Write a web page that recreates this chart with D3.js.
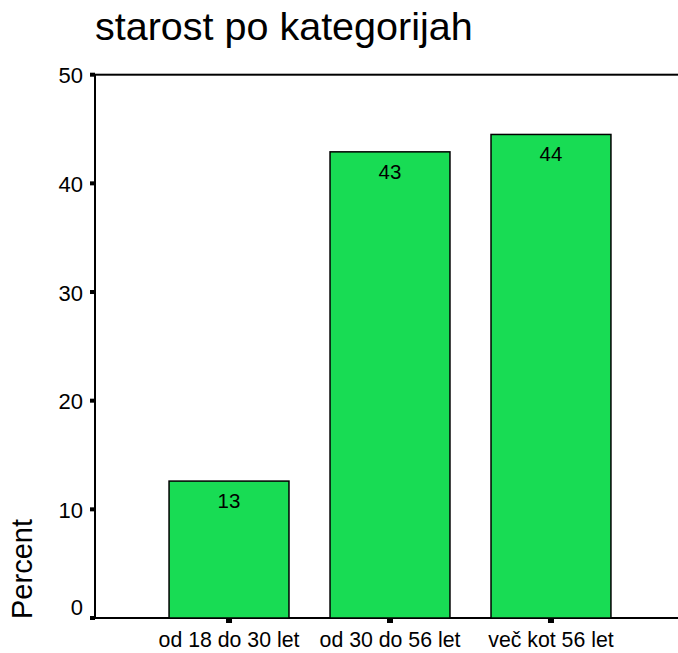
<!DOCTYPE html>
<html><head><meta charset="utf-8">
<script src="https://cdn.jsdelivr.net/npm/d3@7"></script>
<style>body{margin:0;background:#fff}svg{display:block}text{font-family:"Liberation Sans",Arial,sans-serif;fill:#000}</style>
</head><body>
<script>
const categories = ["od 18 do 30 let", "od 30 do 56 let", "več kot 56 let"];
const values = [12.6, 42.9, 44.5];
const valueLabels = ["13", "43", "44"];
const yTicks = [0, 10, 20, 30, 40, 50];
const title = "starost po kategorijah";
const yTitle = "Percent";

const W = 678, H = 653;
const m = {left: 95, top: 74.7, bottom: 618, right: 685};
const svg = d3.select("body").append("svg").attr("width", W).attr("height", H);

const x = d3.scaleBand().domain(categories).range([m.left, m.right]).paddingInner(0.255).paddingOuter(0.46);
const y = d3.scaleLinear().domain([0, 50]).range([m.bottom, m.top]);

// frame
svg.append("rect").attr("x", m.left).attr("y", m.top).attr("width", 700 - m.left).attr("height", m.bottom - m.top)
  .attr("fill", "none").attr("stroke", "#000").attr("stroke-width", 2);

// bars
svg.selectAll("rect.bar").data(values).join("rect").attr("class", "bar")
  .attr("x", (d, i) => x(categories[i])).attr("width", x.bandwidth())
  .attr("y", d => y(d)).attr("height", d => y(0) - y(d))
  .attr("fill", "#18dc54").attr("stroke", "#000").attr("stroke-width", 1.5);

svg.selectAll("text.vl").data(values).join("text").attr("class", "vl")
  .attr("x", (d, i) => x(categories[i]) + x.bandwidth() / 2).attr("y", d => y(d) + 27)
  .attr("text-anchor", "middle").attr("font-size", 20.5).text((d, i) => valueLabels[i]);

// y ticks
svg.selectAll("rect.yt").data(yTicks).join("rect").attr("class", "yt")
  .attr("x", m.left - 5).attr("y", d => y(d) - 2).attr("width", 5).attr("height", 4).attr("fill", "#000");
svg.selectAll("text.ytl").data(yTicks).join("text").attr("class", "ytl")
  .attr("x", 83).attr("y", d => d === 0 ? y(d) - 3.5 : y(d) + 8.5)
  .attr("text-anchor", "end").attr("font-size", 22).text(d => d);

// x ticks
svg.selectAll("rect.xt").data(categories).join("rect").attr("class", "xt")
  .attr("x", d => x(d) + x.bandwidth() / 2 - 3).attr("y", m.bottom).attr("width", 6).attr("height", 5).attr("fill", "#000");
svg.selectAll("text.xtl").data(categories).join("text").attr("class", "xtl")
  .attr("x", d => x(d) + x.bandwidth() / 2).attr("y", 646.5)
  .attr("text-anchor", "middle").attr("font-size", 21.3).text(d => d);

// y title
svg.append("text").attr("transform", "translate(32,619) rotate(-90)")
  .attr("font-size", 29).text(yTitle);

// title
svg.append("text").attr("x", 95).attr("y", 40).attr("font-size", 39.5).text(title);
</script>
</body></html>
